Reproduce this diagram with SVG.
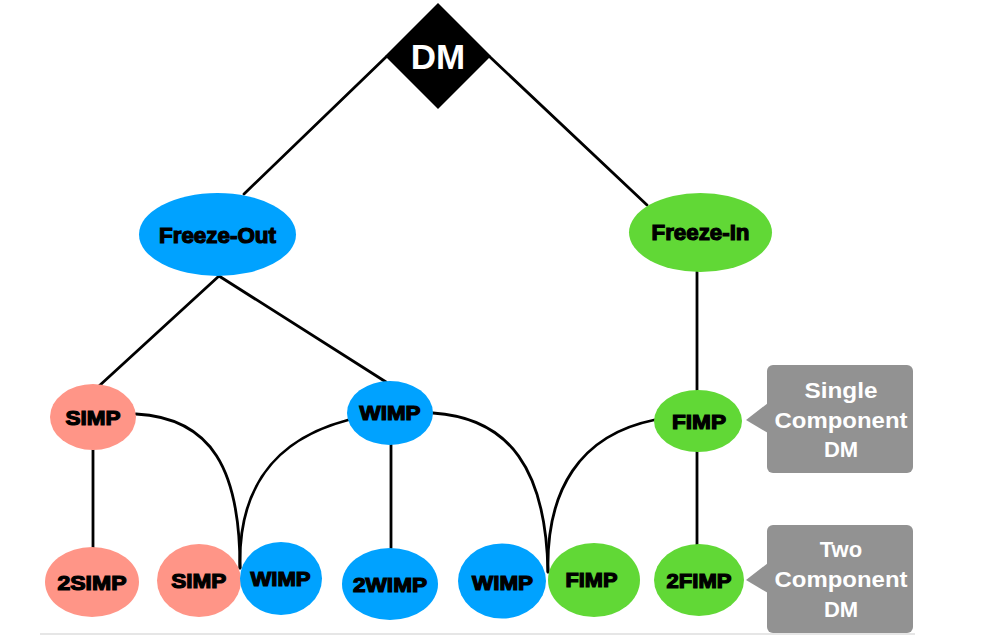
<svg xmlns="http://www.w3.org/2000/svg" width="1006" height="637" viewBox="0 0 1006 637">
<style>
.c{fill:none;stroke:#000;stroke-width:2.8;stroke-linecap:round}
.t{font-family:"Liberation Sans",Arial,sans-serif;font-weight:bold;fill:#000;stroke:#000;stroke-width:1.2;text-anchor:middle}
.big{font-size:22px}
.sm{font-size:20px}
.blue{fill:#00A2FF}
.green{fill:#61D836}
.pink{fill:#FF9587}
.call{fill:#929292}
.ct{font-family:"Liberation Sans",Arial,sans-serif;font-weight:bold;font-size:22px;fill:#fff;text-anchor:middle}
</style>
<rect width="1006" height="637" fill="#fff"/>
<line x1="40" y1="634" x2="915" y2="634" stroke="#e6e6e6" stroke-width="2"/>
<g id="connectors">
<path class="c" d="M386,57 L244,194"/>
<path class="c" d="M490,57 L647,205"/>
<path class="c" d="M219,276 L99,386"/>
<path class="c" d="M219,276 L386,382"/>
<path class="c" d="M697,272 L697,390"/>
<path class="c" d="M93,450 L93,548"/>
<path class="c" d="M391,445 L391,548"/>
<path class="c" d="M697,452 L697,545"/>
<path class="c" d="M136,414 C212,418 240,470 240,568"/>
<path class="c" d="M348,420 C272,440 238,490 240,568"/>
<path class="c" d="M433,413 C510,418 546,470 548,572"/>
<path class="c" d="M654,420 C580,435 546,490 548,572"/>
</g>
<g id="dm">
<polygon points="438,3 491,56 438,109 385,56" fill="#000"/>
<text x="438" y="69" font-family="Liberation Sans,Arial,sans-serif" font-weight="bold" font-size="35" fill="#fff" text-anchor="middle">DM</text>
</g>
<g id="freeze-out">
<ellipse class="blue" cx="217.5" cy="234.5" rx="78.5" ry="41.5"/>
<text class="t big" x="217.5" y="243" textLength="117" lengthAdjust="spacingAndGlyphs">Freeze-Out</text>
</g>
<g id="freeze-in">
<ellipse class="green" cx="700.5" cy="232.5" rx="71.5" ry="39.5"/>
<text class="t big" x="700.5" y="240" textLength="98" lengthAdjust="spacingAndGlyphs">Freeze-In</text>
</g>
<g id="simp1">
<ellipse class="pink" cx="93" cy="417" rx="43" ry="33"/>
<text class="t sm" x="93" y="425" textLength="55" lengthAdjust="spacingAndGlyphs">SIMP</text>
</g>
<g id="wimp1">
<ellipse class="blue" cx="390" cy="413" rx="43" ry="32"/>
<text class="t sm" x="390" y="420" textLength="61" lengthAdjust="spacingAndGlyphs">WIMP</text>
</g>
<g id="fimp1">
<ellipse class="green" cx="698" cy="421" rx="44" ry="31"/>
<text class="t sm" x="699" y="429" textLength="54" lengthAdjust="spacingAndGlyphs">FIMP</text>
</g>
<g id="2simp">
<ellipse class="pink" cx="92" cy="582" rx="47" ry="35"/>
<text class="t sm" x="92" y="590" textLength="69" lengthAdjust="spacingAndGlyphs">2SIMP</text>
</g>
<g id="simp2">
<ellipse class="pink" cx="199" cy="580.5" rx="42" ry="36.5"/>
<text class="t sm" x="198.7" y="588" textLength="55" lengthAdjust="spacingAndGlyphs">SIMP</text>
</g>
<g id="wimp2">
<ellipse class="blue" cx="281" cy="578.5" rx="41" ry="36.5"/>
<text class="t sm" x="280.5" y="586" textLength="60" lengthAdjust="spacingAndGlyphs">WIMP</text>
</g>
<g id="2wimp">
<ellipse class="blue" cx="390" cy="584" rx="48" ry="36"/>
<text class="t sm" x="390" y="592" textLength="74" lengthAdjust="spacingAndGlyphs">2WIMP</text>
</g>
<g id="wimp3">
<ellipse class="blue" cx="502" cy="581" rx="44" ry="37.5"/>
<text class="t sm" x="502.5" y="590" textLength="61" lengthAdjust="spacingAndGlyphs">WIMP</text>
</g>
<g id="fimp2">
<ellipse class="green" cx="594" cy="580" rx="46" ry="37"/>
<text class="t sm" x="591.5" y="587" textLength="52" lengthAdjust="spacingAndGlyphs">FIMP</text>
</g>
<g id="2fimp">
<ellipse class="green" cx="699" cy="580" rx="45" ry="36"/>
<text class="t sm" x="699" y="588" textLength="65" lengthAdjust="spacingAndGlyphs">2FIMP</text>
</g>
<g id="callout-single">
<rect class="call" x="767" y="365" width="146" height="108" rx="6"/>
<polygon class="call" points="746,420 768,403 768,433"/>
<text class="ct" x="841" y="398" textLength="73" lengthAdjust="spacingAndGlyphs">Single</text>
<text class="ct" x="841" y="428" textLength="133" lengthAdjust="spacingAndGlyphs">Component</text>
<text class="ct" x="841" y="457">DM</text>
</g>
<g id="callout-two">
<rect class="call" x="767" y="525" width="146" height="108" rx="6"/>
<polygon class="call" points="746,580 768,563 768,593"/>
<text class="ct" x="841" y="557">Two</text>
<text class="ct" x="841" y="587" textLength="133" lengthAdjust="spacingAndGlyphs">Component</text>
<text class="ct" x="841" y="617">DM</text>
</g>
</svg>
